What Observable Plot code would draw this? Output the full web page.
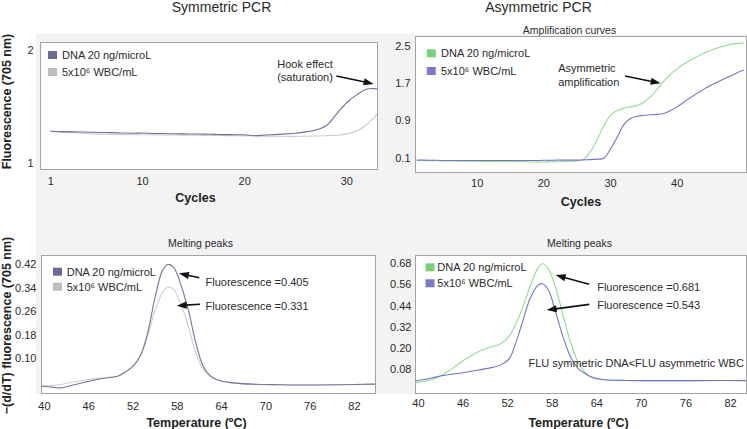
<!DOCTYPE html>
<html><head><meta charset="utf-8">
<script src="https://cdn.jsdelivr.net/npm/d3@7"></script>
<script src="https://cdn.jsdelivr.net/npm/@observablehq/plot@0.6"></script>
<style>
body{margin:0;background:#fff;}
#fig{position:relative;width:747px;height:429px;overflow:hidden;font-family:"Liberation Sans",Arial,sans-serif;}
#bg{position:absolute;left:36px;top:34px;width:711px;height:360px;background:#f3f3f3;}
.panel{position:absolute;}
</style></head><body>
<div id="fig"><div id="bg"></div></div>
<script>
// ---------- data ----------
const seriesNames = ["DNA 20 ng/microL", "5x10\u2076 WBC/mL"];

const symCycles = [1,2,3,4,5,6,7,8,9,10,11,12,13,14,15,16,17,18,19,20,21,22,23,24,25,26,27,28,29,30,31,32,33];
const symDNA = [1.286,1.282,1.280,1.279,1.277,1.275,1.273,1.270,1.268,1.270,1.266,1.265,1.263,1.262,1.261,1.260,1.258,1.256,1.255,1.254,1.246,1.252,1.256,1.262,1.268,1.280,1.297,1.336,1.44,1.54,1.61,1.66,1.66];
const symWBC = [1.286,1.278,1.272,1.268,1.262,1.260,1.258,1.256,1.255,1.255,1.254,1.253,1.252,1.251,1.250,1.249,1.248,1.247,1.246,1.245,1.243,1.242,1.241,1.240,1.240,1.241,1.243,1.246,1.250,1.262,1.29,1.35,1.44];

const asymCycles = [1,2,3,4,5,6,7,8,9,10,11,12,13,14,15,16,17,18,19,20,21,22,23,24,25,26,27,28,29,30,31,32,33,34,35,36,37,38,39,40,41,42,43,44,45,46,47,48,49,50];
const asymDNA = [0.05,0.05,0.045,0.045,0.04,0.04,0.04,0.035,0.035,0.035,0.03,0.03,0.03,0.035,0.03,0.03,0.025,0.02,0.02,0.02,0.025,0.025,0.03,0.035,0.04,0.08,0.25,0.5,0.8,1.02,1.12,1.17,1.2,1.23,1.3,1.42,1.58,1.75,1.9,2.02,2.12,2.2,2.28,2.35,2.41,2.46,2.5,2.54,2.56,2.57];
const asymWBC = [0.06,0.06,0.055,0.055,0.05,0.05,0.05,0.05,0.05,0.05,0.05,0.05,0.05,0.05,0.05,0.05,0.05,0.05,0.05,0.055,0.055,0.06,0.06,0.06,0.06,0.065,0.07,0.08,0.1,0.3,0.55,0.82,0.95,1.0,1.02,1.03,1.04,1.06,1.12,1.2,1.3,1.4,1.49,1.58,1.66,1.73,1.8,1.86,1.93,1.99];

const symTemps = [39.6,41,42,44,46,48,50,51,52,53,54,55,56,56.7,57.5,58.5,59.5,60.5,61.5,62.5,63.5,65,68,72,76,80,84.8];
const symMeltDNA = [0.007,0.004,0.001,0.012,0.024,0.034,0.042,0.056,0.075,0.11,0.19,0.31,0.40,0.42,0.41,0.35,0.265,0.155,0.075,0.042,0.028,0.02,0.014,0.012,0.011,0.012,0.014];
const symMeltWBC = [0.008,0.01,0.012,0.022,0.03,0.035,0.042,0.055,0.074,0.11,0.18,0.265,0.325,0.343,0.335,0.285,0.21,0.12,0.065,0.04,0.027,0.02,0.014,0.012,0.011,0.012,0.014];

const asymTemps = [39.4,41,42.3,44,46,48,49.5,51,52.2,53,54,55,56,56.7,57.5,58.5,59.5,60.5,61.5,62.5,63.5,65,68,72,76,80,84.2];
const asymMeltDNA = [0.005,0.015,0.03,0.07,0.13,0.18,0.205,0.225,0.27,0.33,0.43,0.55,0.65,0.68,0.65,0.54,0.38,0.23,0.12,0.06,0.03,0.022,0.018,0.017,0.017,0.018,0.017];
const asymMeltWBC = [0.015,0.025,0.037,0.05,0.062,0.077,0.088,0.105,0.14,0.22,0.35,0.48,0.555,0.567,0.53,0.40,0.26,0.15,0.085,0.055,0.035,0.022,0.018,0.017,0.017,0.018,0.017];

const symXTicks = [1,10,20,30];
const symYTicks = [1,2];
const asymXTicks = [10,20,30,40];
const asymYTicks = [0.1,0.9,1.7,2.5];
const tempTicks = [40,46,52,58,64,70,76,82];
const symMeltYTicks = [0.10,0.18,0.26,0.34,0.42];
const asymMeltYTicks = [0.08,0.20,0.32,0.44,0.56,0.68];

// annotations (data coordinates)
const hookNote = [{x:25.9, y:1.827, text:"Hook effect\n(saturation)"}];
const hookArrow = [{x1:29.02, y1:1.77, x2:32.67, y2:1.70}];
const asymNote = [{x:22.15, y:1.887, text:"Asymmetric\namplification"}];
const asymArrow = [{x1:32.25, y1:1.85, x2:37.6, y2:1.694}];
const symMeltNotes = [{x:61.82, y:0.36, text:"Fluorescence =0.405"},{x:61.82, y:0.2785, text:"Fluorescence =0.331"}];
const symMeltArrows = [{x1:61.04, y1:0.3735, x2:58.29, y2:0.3884},{x1:61.14, y1:0.2832, x2:57.98, y2:0.2785}];
const asymMeltNotes = [{x:64.05, y:0.547, text:"Fluorescence =0.681"},{x:64.05, y:0.443, text:"Fluorescence =0.543"},{x:54.8, y:0.1135, text:"FLU symmetric DNA<FLU asymmetric WBC"}];
const asymMeltArrows = [{x1:63.05, y1:0.5607, x2:58.53, y2:0.6135},{x1:63.05, y1:0.447, x2:57.32, y2:0.4147}];

// ---------- helpers ----------
const FONT = '"Liberation Sans", Arial, sans-serif';
const rows = (xs, ys) => xs.map((x, i) => ({x, y: ys[i]}));

function arrowMark(list) {
  return (index, scales, values, dims) => {
    const g = d3.create("svg:g");
    for (const a of list) {
      const x1 = scales.x(a.x1), y1 = scales.y(a.y1), x2 = scales.x(a.x2), y2 = scales.y(a.y2);
      const ang = Math.atan2(y2 - y1, x2 - x1);
      const L = 10, W = 3.6;
      const bx = x2 - L * Math.cos(ang), by = y2 - L * Math.sin(ang);
      g.append("line").attr("x1", x1).attr("y1", y1).attr("x2", bx + Math.cos(ang)).attr("y2", by + Math.sin(ang))
        .attr("stroke", "#111").attr("stroke-width", 1.6);
      g.append("polygon").attr("points",
        `${x2},${y2} ${bx - W * Math.sin(ang)},${by + W * Math.cos(ang)} ${bx + W * Math.sin(ang)},${by - W * Math.cos(ang)}`)
        .attr("fill", "#111");
    }
    return g.node();
  };
}

function legendMark(colors, swDx, swDy, rowGap, textDx) {
  return (index, scales, values, dims) => {
    const g = d3.create("svg:g");
    seriesNames.forEach((label, i) => {
      const cy = dims.marginTop + swDy + i * rowGap;
      const cx = dims.marginLeft + swDx;
      g.append("rect").attr("x", cx - 4.5).attr("y", cy - 4).attr("width", 9).attr("height", 8).attr("fill", colors[i]);
      g.append("text").attr("x", dims.marginLeft + textDx).attr("y", cy).attr("dy", "0.35em")
        .attr("text-anchor", "start")
        .attr("font-size", 11).attr("fill", "#2a2a2a").attr("font-family", FONT).text(label);
    });
    return g.node();
  };
}

function place(svg, left, top) {
  const d = document.createElement("div");
  d.className = "panel";
  d.style.left = left + "px";
  d.style.top = top + "px";
  d.appendChild(svg);
  document.getElementById("fig").appendChild(d);
}

const baseStyle = {fontFamily: FONT, fontSize: "11px", background: "transparent", color: "#2a2a2a", overflow: "visible"};
const label = (txt, o) => Plot.text([txt], {textAnchor: "middle", lineAnchor: "middle", fill: "#2a2a2a", ...o});

// ---------- Top-left: symmetric amplification ----------
place(Plot.plot({
  width: 380, height: 215,
  marginLeft: 40, marginRight: 3, marginTop: 42, marginBottom: 46,
  style: baseStyle,
  x: {domain: [0, 33], ticks: symXTicks, tickSize: 0, tickPadding: 8, label: null},
  y: {domain: [0.947, 2.071], ticks: symYTicks, tickSize: 0, tickPadding: 7, tickFormat: d3.format("d"), label: null},
  marks: [
    Plot.frame({fill: "white", stroke: "#a3a3a3"}),
    Plot.line(rows(symCycles, symWBC), {x: "x", y: "y", stroke: "#cdcdcd", strokeWidth: 1.1, curve: "catmull-rom", clip: true}),
    Plot.line(rows(symCycles, symDNA), {x: "x", y: "y", stroke: "#6e6e98", strokeWidth: 1.1, curve: "catmull-rom", clip: true}),
    legendMark(["#6a6a94", "#bdbdbd"], 12.5, 13, 17, 22),
    Plot.text(hookNote, {x: "x", y: "y", text: "text", fontSize: 11, fill: "#2a2a2a", lineHeight: 1.2}),
    arrowMark(hookArrow),
    label("Symmetric PCR", {frameAnchor: "top", dx: 12.5, dy: -35, fontSize: 14}),
    label("Cycles", {frameAnchor: "bottom", dx: -13.5, dy: 28, fontSize: 12.5, fontWeight: "bold", fill: "#222"}),
    label("Fluorescence (705 nm)", {frameAnchor: "left", dx: -33.5, dy: -4.5, rotate: -90, fontSize: 12.5, fontWeight: "bold", fill: "#222"})
  ]
}), 0, 0);

// ---------- Top-right: asymmetric amplification ----------
place(Plot.plot({
  width: 377, height: 215,
  marginLeft: 45, marginRight: 1, marginTop: 36, marginBottom: 43,
  style: baseStyle,
  x: {domain: [0.75, 50.4], ticks: asymXTicks, tickSize: 0, tickPadding: 7, label: null},
  y: {domain: [-0.206, 2.708], ticks: asymYTicks, tickSize: 0, tickPadding: 5, tickFormat: d3.format(".1f"), label: null},
  marks: [
    Plot.frame({fill: "white", stroke: "#a3a3a3"}),
    Plot.line(rows(asymCycles, asymDNA), {x: "x", y: "y", stroke: "#96da96", strokeWidth: 1.1, curve: "catmull-rom", clip: true}),
    Plot.line(rows(asymCycles, asymWBC), {x: "x", y: "y", stroke: "#7474c6", strokeWidth: 1.1, curve: "catmull-rom", clip: true}),
    legendMark(["#7ccf7c", "#7a7ac8"], 16.3, 17.3, 17.7, 26),
    Plot.text(asymNote, {x: "x", y: "y", text: "text", textAnchor: "start", fontSize: 11, fill: "#2a2a2a", lineHeight: 1.2}),
    arrowMark(asymArrow),
    label("Asymmetric PCR", {frameAnchor: "top", dx: -42.5, dy: -29.3, fontSize: 14}),
    label("Amplification curves", {frameAnchor: "top", dx: -11.5, dy: -6, fontSize: 10.5}),
    label("Cycles", {frameAnchor: "bottom", dx: 0, dy: 29, fontSize: 12.5, fontWeight: "bold", fill: "#222"})
  ]
}), 370, 0);

// ---------- Bottom-left: symmetric melting peaks ----------
place(Plot.plot({
  width: 380, height: 214,
  marginLeft: 41, marginRight: 5, marginTop: 40, marginBottom: 36,
  style: baseStyle,
  x: {domain: [39.6, 84.85], ticks: tempTicks, tickSize: 0, tickPadding: 9, label: null},
  y: {domain: [-0.0177, 0.4505], ticks: symMeltYTicks, tickSize: 0, tickPadding: 5, tickFormat: d3.format(".2f"), label: null},
  marks: [
    Plot.frame({fill: "white", stroke: "#a3a3a3"}),
    Plot.line(rows(symTemps, symMeltWBC), {x: "x", y: "y", stroke: "#cdcdcd", strokeWidth: 1.1, curve: "catmull-rom", clip: true}),
    Plot.line(rows(symTemps, symMeltDNA), {x: "x", y: "y", stroke: "#76769c", strokeWidth: 1.1, curve: "catmull-rom", clip: true}),
    legendMark(["#6a6a94", "#bdbdbd"], 16.5, 16.7, 15, 25.7),
    Plot.text(symMeltNotes, {x: "x", y: "y", text: "text", textAnchor: "start", fontSize: 11, fill: "#2a2a2a"}),
    arrowMark(symMeltArrows),
    label("Melting peaks", {frameAnchor: "top", dx: -8, dy: -11.7, fontSize: 10.5}),
    label("Temperature (\u00baC)", {frameAnchor: "bottom", dx: -12, dy: 29, fontSize: 12.5, fontWeight: "bold", fill: "#222"}),
    label("\u2212(d/dT) fluorescence (705 nm)", {frameAnchor: "left", dx: -34.5, dy: 1, rotate: -90, fontSize: 12.5, fontWeight: "bold", fill: "#222"})
  ]
}), 0, 215);

// ---------- Bottom-right: asymmetric melting peaks ----------
place(Plot.plot({
  width: 377, height: 214,
  marginLeft: 45, marginRight: 1, marginTop: 40, marginBottom: 36,
  style: baseStyle,
  x: {domain: [39.6, 84.15], ticks: tempTicks, tickSize: 0, tickPadding: 6, label: null},
  y: {domain: [-0.056, 0.727], ticks: asymMeltYTicks, tickSize: 0, tickPadding: 4, tickFormat: d3.format(".2f"), label: null},
  marks: [
    Plot.frame({fill: "white", stroke: "#a3a3a3"}),
    Plot.line(rows(asymTemps, asymMeltDNA), {x: "x", y: "y", stroke: "#96da96", strokeWidth: 1.1, curve: "catmull-rom", clip: true}),
    Plot.line(rows(asymTemps, asymMeltWBC), {x: "x", y: "y", stroke: "#7474c6", strokeWidth: 1.1, curve: "catmull-rom", clip: true}),
    legendMark(["#7ccf7c", "#7a7ac8"], 15, 12.3, 16, 22.3),
    Plot.text(asymMeltNotes, {x: "x", y: "y", text: "text", textAnchor: "start", fontSize: 11, fill: "#2a2a2a"}),
    arrowMark(asymMeltArrows),
    label("Melting peaks", {frameAnchor: "top", dx: -1.5, dy: -11.7, fontSize: 10.5}),
    label("Temperature (\u00baC)", {frameAnchor: "bottom", dx: -2.5, dy: 29, fontSize: 12.5, fontWeight: "bold", fill: "#222"})
  ]
}), 370, 215);
</script>
</body></html>
